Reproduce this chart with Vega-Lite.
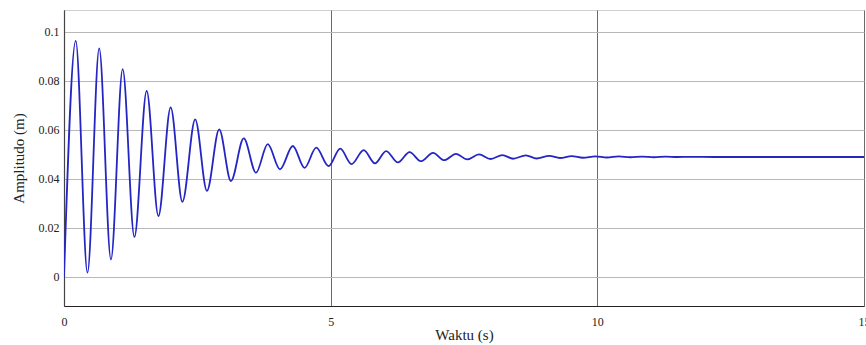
{
  "$schema": "https://vega.github.io/schema/vega-lite/v6.json",
  "width": 800,
  "height": 296,
  "autosize": {"type": "none"},
  "padding": {"left": 64, "top": 10, "right": 2, "bottom": 39},
  "background": "white",
  "config": {
    "view": {"stroke": "#d0d0d0", "strokeWidth": 1},
    "font": "Liberation Serif"
  },
  "data": {
    "values": [
      {"t": 0, "a": 0},
      {"t": 0.22, "a": 0.0962},
      {"t": 0.44, "a": 0.0016},
      {"t": 0.66, "a": 0.0931},
      {"t": 0.88, "a": 0.0070},
      {"t": 1.10, "a": 0.0847},
      {"t": 1.32, "a": 0.0162},
      {"t": 1.55, "a": 0.0758},
      {"t": 1.77, "a": 0.0247},
      {"t": 2.00, "a": 0.0691},
      {"t": 2.22, "a": 0.0305},
      {"t": 2.46, "a": 0.0642},
      {"t": 2.68, "a": 0.0350},
      {"t": 2.91, "a": 0.0601},
      {"t": 3.13, "a": 0.0390},
      {"t": 3.37, "a": 0.0564},
      {"t": 3.60, "a": 0.0424},
      {"t": 3.82, "a": 0.0541},
      {"t": 4.05, "a": 0.0438},
      {"t": 4.29, "a": 0.0533},
      {"t": 4.51, "a": 0.0444},
      {"t": 4.73, "a": 0.0526},
      {"t": 4.96, "a": 0.0451},
      {"t": 5.18, "a": 0.0522},
      {"t": 5.39, "a": 0.0459},
      {"t": 5.62, "a": 0.0516},
      {"t": 5.83, "a": 0.0462},
      {"t": 6.04, "a": 0.0512},
      {"t": 6.26, "a": 0.0466},
      {"t": 6.48, "a": 0.0508},
      {"t": 6.69, "a": 0.0471},
      {"t": 6.92, "a": 0.0505},
      {"t": 7.13, "a": 0.0475},
      {"t": 7.35, "a": 0.0501},
      {"t": 7.56, "a": 0.0478},
      {"t": 7.78, "a": 0.0499},
      {"t": 8.00, "a": 0.0480},
      {"t": 8.22, "a": 0.0496},
      {"t": 8.42, "a": 0.0481},
      {"t": 8.66, "a": 0.0495},
      {"t": 8.86, "a": 0.0482},
      {"t": 9.10, "a": 0.0493},
      {"t": 9.30, "a": 0.0484},
      {"t": 9.52, "a": 0.0492},
      {"t": 9.73, "a": 0.0485},
      {"t": 9.96, "a": 0.0491},
      {"t": 10.18, "a": 0.0486},
      {"t": 10.40, "a": 0.0491},
      {"t": 10.62, "a": 0.0487},
      {"t": 10.84, "a": 0.0490},
      {"t": 11.06, "a": 0.0487},
      {"t": 11.28, "a": 0.0490},
      {"t": 11.50, "a": 0.0488},
      {"t": 11.72, "a": 0.0489},
      {"t": 12.2, "a": 0.0488},
      {"t": 13.5, "a": 0.0488},
      {"t": 15, "a": 0.0488}
    ]
  },
  "mark": {"type": "line", "interpolate": "monotone", "color": "#2525c4", "strokeWidth": 1.8, "clip": true},
  "encoding": {
    "x": {
      "field": "t",
      "type": "quantitative",
      "scale": {"domain": [0, 15], "nice": false, "zero": false},
      "axis": {
        "values": [0, 5, 10, 15],
        "title": "Waktu (s)",
        "titleFont": "Liberation Serif",
        "titleFontSize": 15,
        "titleFontWeight": "normal",
        "titleColor": "#222",
        "titlePadding": 0,
        "labelFont": "Liberation Serif",
        "labelFontSize": 12,
        "labelColor": "#222",
        "labelPadding": 10,
        "labelFlush": false,
        "labelOverlap": false,
        "domainColor": "#222",
        "domainWidth": 1.2,
        "ticks": false,
        "grid": true,
        "gridColor": "#6a6a6a",
        "gridWidth": 1
      }
    },
    "y": {
      "field": "a",
      "type": "quantitative",
      "scale": {"domain": [-0.012, 0.1088], "nice": false, "zero": false},
      "axis": {
        "values": [0, 0.02, 0.04, 0.06, 0.08, 0.1],
        "format": "~g",
        "title": "Amplitudo (m)",
        "titleFont": "Liberation Serif",
        "titleFontSize": 15,
        "titleFontWeight": "normal",
        "titleColor": "#222",
        "titlePadding": 12,
        "labelFont": "Liberation Serif",
        "labelFontSize": 12,
        "labelColor": "#222",
        "labelPadding": 5,
        "domainColor": "#444",
        "domainWidth": 1.2,
        "ticks": false,
        "grid": true,
        "gridColor": "#b8b8b8",
        "gridWidth": 1
      }
    }
  }
}
